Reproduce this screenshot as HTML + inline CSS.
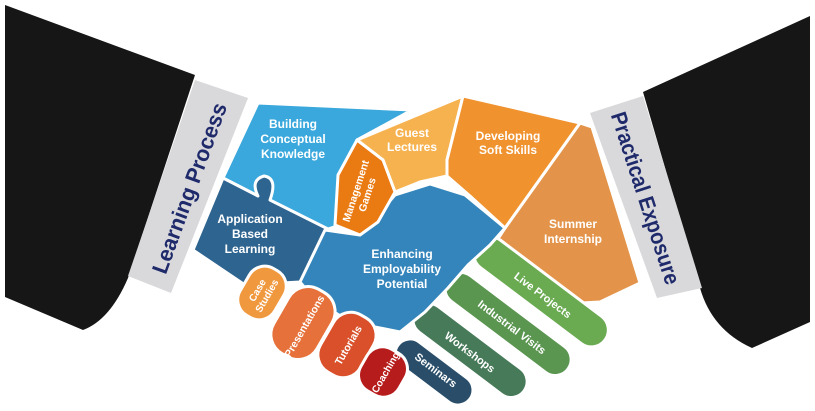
<!DOCTYPE html>
<html><head><meta charset="utf-8"><style>
html,body{margin:0;padding:0;background:#fff;width:815px;height:411px;overflow:hidden}
svg{display:block}
text{font-family:"Liberation Sans",sans-serif;font-weight:bold;fill:#fff}
</style></head><body>
<svg width="815" height="411" viewBox="0 0 815 411">
<!-- sleeves -->
<path d="M5,5 L195,75 L128,278 Q110,320 83,330 L5,297 Z" fill="#161616"/>
<path d="M195,80 L248,98 L171,293 L128,276 Z" fill="#d9d9dc"/>
<text transform="translate(189,188) rotate(-70)" text-anchor="middle" font-size="22" textLength="180" lengthAdjust="spacingAndGlyphs" style="fill:#1f2a6b" dy="8">Learning Process</text>
<path d="M643,92 L810,16 L810,322 L752,348 Q712,330 700,288 Z" fill="#161616"/>
<path d="M590,113 L643,96 L702,288 L657,298 Z" fill="#d9d9dc"/>
<text transform="translate(646,198) rotate(72)" text-anchor="middle" font-size="22" textLength="180" lengthAdjust="spacingAndGlyphs" style="fill:#1f2a6b" dy="8">Practical Exposure</text>

<g stroke="#fff" stroke-width="3" stroke-linejoin="round">
<!-- summer -->
<path d="M580,123 L592,127 L640,283 L600,302 L545,305 L492,248 L505,228 Z" fill="#e3944a"/>
</g>
<g stroke="#fff" stroke-width="3">
<!-- green bands -->
<rect x="-45" y="-15" width="90" height="30" rx="15" fill="#2a4e6a" transform="translate(434,372) rotate(37)"/>
<rect x="-70" y="-16" width="135" height="32" rx="16" fill="#467a58" transform="translate(472,352) rotate(37)"/>
<rect x="-80" y="-16" width="150" height="32" rx="16" fill="#5a9650" transform="translate(512,327) rotate(37)"/>
<rect x="-85" y="-17" width="160" height="34" rx="17" fill="#6aab52" transform="translate(545,295) rotate(37)"/>
</g>
<g stroke="#fff" stroke-width="3" stroke-linejoin="round">
<!-- building conceptual -->
<path d="M258,103 L412,110 L357,140 L340,225 L325,230 L223,178 Z" fill="#3aa8dc"/>
<!-- application based -->
<path d="M223,178 L258,196 Q250,180 264,176 Q278,178 270,200 L330,230 L300,282 L245,285 L193,250 Z" fill="#2e6490"/>
<!-- center -->
<path d="M325,230 L360,235 L395,195 L430,184 L465,195 L505,228 L490,245 L468,265 L448,288 L425,312 L400,332 L350,322 L315,300 L300,282 Z" fill="#3385bb"/>
<!-- guest -->
<path d="M357,140 L463,96 L447,160 L447,176 L420,182 L395,192 L383,160 Z" fill="#f6b24f"/>
<!-- soft skills -->
<path d="M463,96 L580,123 L505,228 L470,196 L447,176 L447,160 Z" fill="#f0922e"/>
<!-- management -->
<path d="M357,140 L383,160 L395,192 L378,222 L360,235 L335,225 L338,175 Z" fill="#ea7a12"/>
</g>
<g stroke="#fff" stroke-width="3">
<!-- fingers -->
<rect x="-20" y="-27" width="40" height="54" rx="18" fill="#f0983e" transform="translate(262,293) rotate(30)"/>
<rect x="-25" y="-37" width="50" height="74" rx="22" fill="#e6713a" transform="translate(303,323) rotate(30)"/>
<rect x="-23" y="-33" width="46" height="66" rx="20" fill="#d9502a" transform="translate(347,345) rotate(30)"/>
<rect x="-22" y="-24" width="44" height="48" rx="18" fill="#b71c1c" transform="translate(383,372) rotate(30)"/>
</g>

<g text-anchor="middle">
<text x="293" y="128" font-size="12">Building</text>
<text x="293" y="143" font-size="12">Conceptual</text>
<text x="293" y="158" font-size="12">Knowledge</text>
<text x="250" y="223" font-size="12">Application</text>
<text x="250" y="238" font-size="12">Based</text>
<text x="250" y="253" font-size="12">Learning</text>
<text x="412" y="137" font-size="12">Guest</text>
<text x="412" y="151" font-size="12">Lectures</text>
<text x="508" y="140" font-size="12">Developing</text>
<text x="508" y="154" font-size="12">Soft Skills</text>
<text x="573" y="228" font-size="12">Summer</text>
<text x="573" y="243" font-size="12">Internship</text>
<text x="402" y="258" font-size="12">Enhancing</text>
<text x="402" y="273" font-size="12">Employability</text>
<text x="402" y="288" font-size="12">Potential</text>
<text transform="translate(362,193) rotate(-72)" font-size="10.5"><tspan x="0" y="-3">Management</tspan><tspan x="0" y="9">Games</tspan></text>
<text transform="translate(262,293) rotate(-60)" font-size="10"><tspan x="0" y="-2">Case</tspan><tspan x="0" y="9">Studies</tspan></text>
<text transform="translate(304,326) rotate(-60)" font-size="10.5" dy="4">Presentations</text>
<text transform="translate(348,345) rotate(-60)" font-size="10.5" dy="4">Tutorials</text>
<text transform="translate(385,372) rotate(-60)" font-size="10" dy="4">Coaching</text>
<text transform="translate(543,295) rotate(37)" font-size="11" dy="4">Live Projects</text>
<text transform="translate(512,327) rotate(37)" font-size="11" dy="4">Industrial Visits</text>
<text transform="translate(470,352) rotate(37)" font-size="11" dy="4">Workshops</text>
<text transform="translate(436,370) rotate(37)" font-size="11" dy="4">Seminars</text>
</g>
</svg>
</body></html>
